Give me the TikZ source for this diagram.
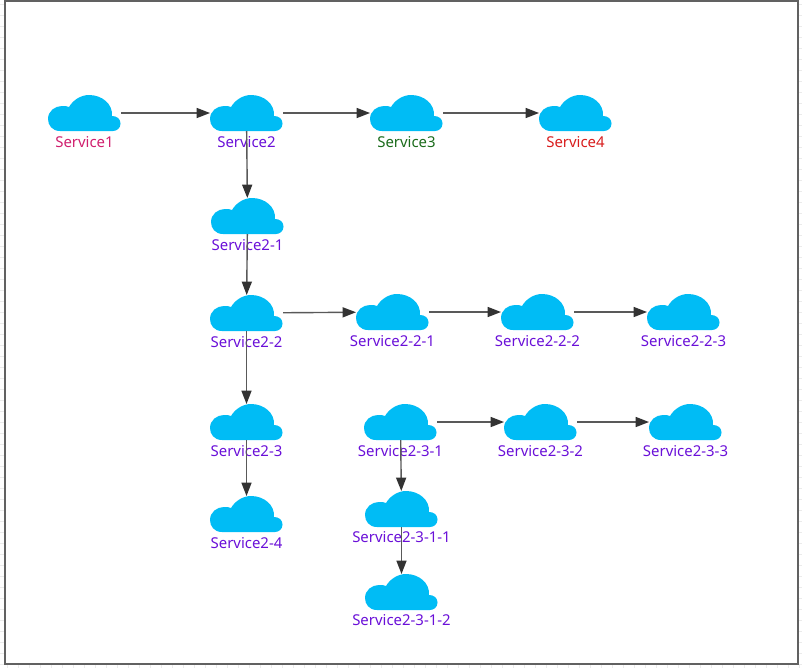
\documentclass[tikz,border=0pt]{standalone}
\usepackage{fontspec}
\setmainfont{Noto Sans}
\usetikzlibrary{arrows.meta}
\definecolor{cloudblue}{HTML}{00BCF5}
\definecolor{cpink}{HTML}{D01F6E}
\definecolor{cpurple}{HTML}{6A10D8}
\definecolor{cgreen}{HTML}{1B6B1B}
\definecolor{cred}{HTML}{D81E1E}
\tikzset{
  x=0.75pt,y=-0.75pt,
  cloudbox/.style={rectangle,inner sep=0pt,outer sep=0pt,minimum width=54.75pt,minimum height=27pt,anchor=north west},
  cloudshape/.style={fill=cloudblue,draw=none},
  svclabel/.style={font=\fontsize{11.2pt}{13pt}\selectfont,inner sep=0pt,text height=8pt,text depth=2pt},
  conn/.style={draw=black!65,line width=1.05pt,-{Triangle[length=10pt,width=7.5pt,color=black!80]}},
  frameline/.style={draw=black!62,line width=1.5pt},
  tick/.style={draw=black!8,line width=0.6pt}
}
\newcommand{\svc}[6][12]{%
  \begin{scope}[shift={(#3,#4)}]
    \path[cloudshape] (12,36) .. controls (4,36) and (0,30) .. (0,24)
      .. controls (0,16) and (7,11) .. (14,11) .. controls (17,11) and (19,11) .. (21,12)
      .. controls (25,5) and (33,0) .. (41,0) .. controls (54,0) and (65,9) .. (64,21)
      .. controls (69,21) and (72.5,24) .. (72.5,28.5) .. controls (72.5,33) and (69,36) .. (65,36) -- cycle;
  \end{scope}
  \node[cloudbox] (#2) at (#3,#4) {};
  \node[svclabel,text=#5,anchor=center] (#2l) at ([yshift=-#1*0.75pt]#2.south) {#6};
}
\begin{document}
\begin{tikzpicture}
\useasboundingbox (0,0) rectangle (802,668);
\foreach \i in {0,...,60}{\draw[tick] (0,{\i*11+4}) -- (4,{\i*11+4}); \draw[tick] (799,{\i*11+4}) -- (802,{\i*11+4});}
\foreach \i in {0,...,72}{\draw[tick] ({\i*11+7},665) -- ({\i*11+7},668);}
\draw[frameline] (5,1) rectangle (798,664);
\svc{s1}{48}{95}{cpink}{Service1}
\svc{s2}{210}{95}{cpurple}{Service2}
\svc{s3}{370}{95}{cgreen}{Service3}
\svc{s4}{539}{95}{cred}{Service4}
\svc{s21}{211}{198}{cpurple}{Service2-1}
\svc{s22}{210}{295}{cpurple}{Service2-2}
\svc{s221}{356}{294}{cpurple}{Service2-2-1}
\svc{s222}{501}{294}{cpurple}{Service2-2-2}
\svc{s223}{647}{294}{cpurple}{Service2-2-3}
\svc{s23}{210}{404}{cpurple}{Service2-3}
\svc{s231}{364}{404}{cpurple}{Service2-3-1}
\svc{s232}{504}{404}{cpurple}{Service2-3-2}
\svc{s233}{649}{404}{cpurple}{Service2-3-3}
\svc{s24}{210}{496}{cpurple}{Service2-4}
\svc[11]{s2311}{365}{491}{cpurple}{Service2-3-1-1}
\svc[11]{s2312}{365}{574}{cpurple}{Service2-3-1-2}
\draw[conn] (s1) -- (s2);
\draw[conn] (s2) -- (s3);
\draw[conn] (s3) -- (s4);
\draw[conn] (s2) -- (s21);
\draw[conn] (s21) -- (s22);
\draw[conn] (s22) -- (s221);
\draw[conn] (s221) -- (s222);
\draw[conn] (s222) -- (s223);
\draw[conn] (s22) -- (s23);
\draw[conn] (s23) -- (s24);
\draw[conn] (s231) -- (s232);
\draw[conn] (s232) -- (s233);
\draw[conn] (s231) -- (s2311);
\draw[conn] (s2311) -- (s2312);
\end{tikzpicture}
\end{document}
